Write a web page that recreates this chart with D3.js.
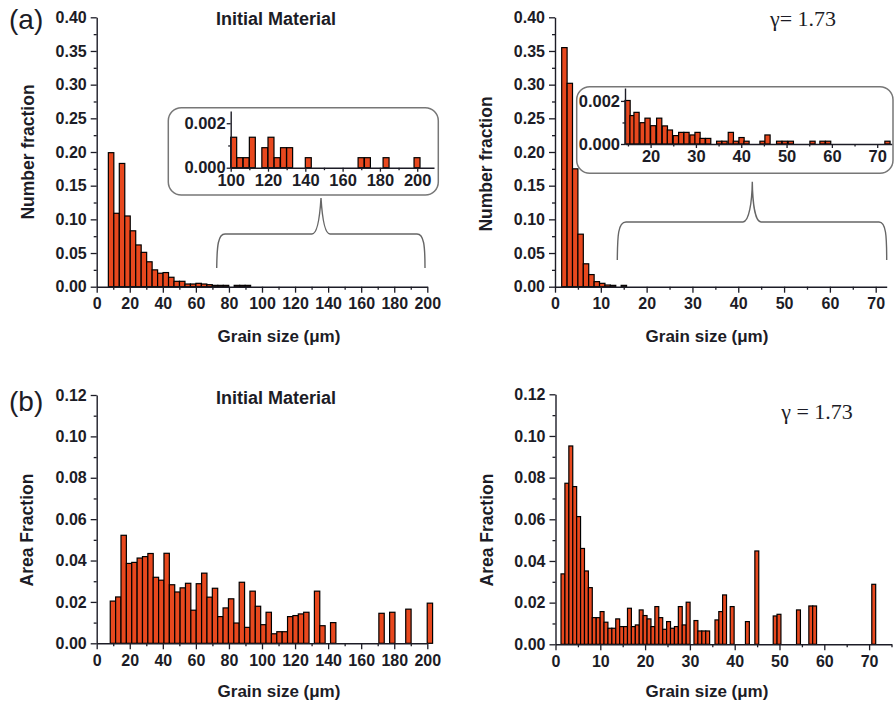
<!DOCTYPE html>
<html>
<head>
<meta charset="utf-8">
<script src="https://cdnjs.cloudflare.com/ajax/libs/d3/7.8.5/d3.min.js"></script>
<style>
body { margin: 0; background: #fff; }
svg { display: block; }
</style>
</head>
<body>
<svg width="894" height="710"></svg>
<script>
// ---- data (bin left edges in um, fractions) ----
// (a) left: number fraction, initial material
var numInitBins = [7.05, 10.36, 13.67, 16.98, 20.29, 23.6, 26.91, 30.22, 33.53, 36.84, 40.15, 43.46, 46.77,
	50.08, 53.39, 56.7, 60.01, 63.32, 66.63, 69.94, 73.25, 76.56, 79.87, 83.18, 86.49, 89.8];
var numInitFrac = [0.199, 0.109, 0.183, 0.105, 0.083, 0.062, 0.051, 0.037, 0.025, 0.020, 0.021, 0.014, 0.008,
	0.008, 0.004, 0.004, 0.005, 0.004, 0.003, 0.002, 0.002, 0.002, 0, 0.002, 0.002, 0.002];
// inset: tail 100-200 um
var tailInitBins = [100, 103.3, 106.7, 110, 116.7, 120, 123.3, 126.7, 130, 140, 168.3, 171.7, 181.7, 198.3];
var tailInitFrac = [0.00137, 0.00045, 0.00045, 0.00137, 0.0009, 0.00137, 0.00045, 0.0009, 0.0009, 0.00045,
	0.00045, 0.00045, 0.00045, 0.00045];

// (a) right: number fraction, gamma = 1.73
var numDefBins = [1.46, 2.64, 3.82, 5.0, 6.18, 7.36, 8.54, 9.72, 10.9, 12.08, 14.44];
var numDefFrac = [0.355, 0.302, 0.175, 0.078, 0.034, 0.018, 0.0075, 0.005, 0.0025, 0.002, 0.002];
// inset: tail 15-72 um
var tailDefBins = [14.34, 15.44, 16.32, 17.65, 18.75, 20.0, 21.32, 22.57, 23.68, 25.0, 26.18, 27.35, 28.68,
	29.78, 30.88, 32.13, 34.56, 35.74, 37.13, 38.24, 39.49, 40.59, 44.12, 45.22, 47.79, 49.04, 50.37,
	55.15, 57.35, 58.6, 71.69];
var tailDefFrac = [0.00202, 0.00132, 0.00147, 0.00099, 0.0012, 0.00085, 0.0012, 0.00084, 0.00065, 0.00039,
	0.00054, 0.00054, 0.00042, 0.00054, 0.00026, 0.00026, 0.00013, 0.00013, 0.00054, 0.00013, 0.0003,
	0.00013, 0.00013, 0.00042, 0.00013, 0.00013, 0.00013, 0.00013, 0.00013, 0.00013, 0.00013];

// (b) left: area fraction, initial material
var areaInitBins = [8.2, 11.45, 14.7, 17.95, 21.2, 24.45, 27.7, 30.95, 34.2, 37.45, 40.7, 43.95, 47.2, 50.45,
	53.7, 56.95, 60.2, 63.45, 66.7, 69.95, 73.2, 76.45, 79.7, 82.95, 86.2, 89.45, 92.7, 95.95, 99.2, 102.45,
	105.7, 108.95, 112.2, 115.45, 118.7, 121.95, 125.2, 131.7, 134.95, 141.45, 170.7, 177.2, 186.95, 199.95];
var areaInitFrac = [0.0204, 0.0224, 0.0522, 0.0386, 0.0391, 0.0412, 0.0419, 0.0434, 0.0319, 0.0305, 0.0435,
	0.0283, 0.0248, 0.0268, 0.0290, 0.0160, 0.0288, 0.0339, 0.0223, 0.0266, 0.0129, 0.0171, 0.0215, 0.0098,
	0.0295, 0.0077, 0.0252, 0.0179, 0.0090, 0.0150, 0.0046, 0.0056, 0.0056, 0.0129, 0.0134, 0.0142, 0.0150,
	0.0252, 0.0085, 0.0100, 0.0145, 0.0150, 0.0165, 0.0194];

// (b) right: area fraction, gamma = 1.73
var areaDefBins = [1.23, 2.10, 2.98, 3.85, 4.72, 5.60, 6.47, 7.34, 8.21, 9.09, 9.96, 10.83, 11.71, 12.58,
	13.45, 14.33, 15.20, 16.07, 16.94, 17.82, 18.69, 19.56, 20.44, 21.31, 22.18, 23.06, 23.93, 24.80, 25.67,
	26.55, 27.42, 28.29, 29.17, 30.91, 31.78, 32.66, 33.53, 35.6, 36.45, 37.3, 39.0, 42.4, 44.5, 48.6, 49.45,
	53.8, 56.55, 57.4, 70.6];
var areaDefFrac = [0.0338, 0.0773, 0.0952, 0.0757, 0.0613, 0.0460, 0.0352, 0.0272, 0.0128, 0.0128, 0.0157,
	0.0106, 0.0077, 0.0077, 0.0122, 0.0085, 0.0085, 0.0173, 0.0085, 0.0093, 0.0165, 0.0138, 0.0122, 0.0085,
	0.0181, 0.0128, 0.0072, 0.0109, 0.0077, 0.0085, 0.0181, 0.0093, 0.0202, 0.0114, 0.0064, 0.0064, 0.0064,
	0.0117, 0.0157, 0.0237, 0.0181, 0.0109, 0.0448, 0.0136, 0.0144, 0.0165, 0.0184, 0.0184, 0.0288];

// ---- ticks ----
var numTicks = [0, 0.05, 0.10, 0.15, 0.20, 0.25, 0.30, 0.35, 0.40];
var numMinor = [0.025, 0.075, 0.125, 0.175, 0.225, 0.275, 0.325, 0.375];
var areaTicks = [0, 0.02, 0.04, 0.06, 0.08, 0.10, 0.12];
var areaMinor = [0.01, 0.03, 0.05, 0.07, 0.09, 0.11];
var sizeInitTicks = [0, 20, 40, 60, 80, 100, 120, 140, 160, 180, 200];
var sizeInitMinor = [10, 30, 50, 70, 90, 110, 130, 150, 170, 190];
var sizeDefTicks = [0, 10, 20, 30, 40, 50, 60, 70];
var sizeDefMinor = [5, 15, 25, 35, 45, 55, 65];
var sizeDefMinorB = [5, 15, 25, 35, 45, 55, 65, 75];
var tailInitTicks = [100, 120, 140, 160, 180, 200];
var tailInitMinor = [110, 130, 150, 170, 190];
var tailDefTicks = [20, 30, 40, 50, 60, 70];
var tailDefMinor = [15, 25, 35, 45, 55, 65];
var tailYTicks = [0, 0.002];
var tailYMinor = [0.001];

var svg = d3.select("svg");
var sans = "'Liberation Sans', Arial, Helvetica, sans-serif";
var ink = "#1c1c26";
var barFill = "#e8481e";

function drawPanel(p) {
	var x = d3.scaleLinear().domain(p.xDomain).range(p.xRange);
	var y = d3.scaleLinear().domain(p.yDomain).range(p.yRange);
	var g = svg.append("g");

	var rows = p.bins.map(function (b, i) { return { x0: b, v: p.values[i] }; })
		.filter(function (d) { return d.v > 0; });

	g.append("g").selectAll("rect")
		.data(rows)
		.enter().append("rect")
		.attr("x", function (d) { return x(d.x0); })
		.attr("y", function (d) { return y(d.v); })
		.attr("width", function (d) { return x(d.x0 + p.binWidth) - x(d.x0); })
		.attr("height", function (d) { return y(0) - y(d.v); })
		.attr("fill", barFill)
		.attr("stroke", "#000")
		.attr("stroke-width", 1.2);

	var blank = function () { return ""; };
	var styleAxis = function (s) {
		s.attr("font-family", sans).attr("font-size", p.tickFont).attr("font-weight", "bold").attr("color", ink);
		s.selectAll("line").attr("stroke-width", 1.3);
		s.select(".domain").attr("stroke-width", 1.4);
	};

	g.append("g")
		.attr("transform", "translate(0," + p.yRange[0] + ")")
		.call(d3.axisBottom(x).tickValues(p.xMinor).tickSize(p.minor).tickSizeOuter(0).tickFormat(blank))
		.call(styleAxis)
		.call(function (s) { s.select(".domain").remove(); });
	g.append("g")
		.attr("transform", "translate(0," + p.yRange[0] + ")")
		.call(d3.axisBottom(x).tickValues(p.xTicks).tickSize(p.major).tickSizeOuter(0).tickPadding(p.padX)
			.tickFormat(d3.format("d")))
		.call(styleAxis);

	g.append("g")
		.attr("transform", "translate(" + p.xRange[0] + ",0)")
		.call(d3.axisLeft(y).tickValues(p.yMinor).tickSize(p.minor).tickSizeOuter(0).tickFormat(blank))
		.call(styleAxis)
		.call(function (s) { s.select(".domain").remove(); });
	g.append("g")
		.attr("transform", "translate(" + p.xRange[0] + ",0)")
		.call(d3.axisLeft(y).tickValues(p.yTicks).tickSize(p.major).tickSizeOuter(0).tickPadding(p.padY)
			.tickFormat(d3.format(p.yFormat)))
		.call(styleAxis);
}

// inset boxes (drawn under the inset axes)
svg.append("rect").attr("x", 168.3).attr("y", 107.7).attr("width", 270).attr("height", 87.3)
	.attr("rx", 13).attr("fill", "none").attr("stroke", "#777").attr("stroke-width", 1.5);
svg.append("rect").attr("x", 576.7).attr("y", 86.7).attr("width", 316.3).attr("height", 86.6)
	.attr("rx", 13).attr("fill", "none").attr("stroke", "#777").attr("stroke-width", 1.5);

// braces pointing up at the insets
svg.append("path")
	.attr("d", "M216.7,268 C217,246 218,234 225,234 L312,234 C318,234 320,214 321,198 " +
		"C322,214 324,234 330,234 L417,234 C424,234 425,246 425,268")
	.attr("fill", "none").attr("stroke", "#666").attr("stroke-width", 1.4);
svg.append("path")
	.attr("d", "M617.3,260 C617.5,236 618,222 626,222 L743,222 C749,222 752,202 752.3,181.7 " +
		"C752.6,202 755,222 761,222 L879,222 C886,222 886.7,236 886.7,260")
	.attr("fill", "none").attr("stroke", "#666").attr("stroke-width", 1.4);

var big = { major: 6, minor: 3, padX: 5, padY: 4, tickFont: 16 };
var small = { major: 4, minor: 2.5, padX: 2.5, padY: 1, tickFont: 16.5 };

drawPanel(Object.assign({}, big, {
	bins: numInitBins, values: numInitFrac, binWidth: 3.31,
	xDomain: [0, 200], xRange: [96.7, 427.3], yDomain: [0, 0.4], yRange: [286.7, 17.3],
	xTicks: sizeInitTicks, xMinor: sizeInitMinor, yTicks: numTicks, yMinor: numMinor, yFormat: ".2f"
}));
drawPanel(Object.assign({}, small, {
	bins: tailInitBins, values: tailInitFrac, binWidth: 3.2,
	xDomain: [100, 209], xRange: [230.7, 434], yDomain: [0, 0.00255], yRange: [167.7, 111],
	xTicks: tailInitTicks, xMinor: tailInitMinor, yTicks: tailYTicks, yMinor: tailYMinor, yFormat: ".3f"
}));
drawPanel(Object.assign({}, big, {
	bins: numDefBins, values: numDefFrac, binWidth: 1.18,
	xDomain: [0, 72.4], xRange: [555, 886.7], yDomain: [0, 0.4], yRange: [286.7, 17.3],
	xTicks: sizeDefTicks, xMinor: sizeDefMinor, yTicks: numTicks, yMinor: numMinor, yFormat: ".2f"
}));
drawPanel(Object.assign({}, small, {
	bins: tailDefBins, values: tailDefFrac, binWidth: 1.15,
	xDomain: [14.35, 73.2], xRange: [625, 891.7], yDomain: [0, 0.0026], yRange: [144, 88],
	xTicks: tailDefTicks, xMinor: tailDefMinor, yTicks: tailYTicks, yMinor: tailYMinor, yFormat: ".3f"
}));
drawPanel(Object.assign({}, big, {
	bins: areaInitBins, values: areaInitFrac, binWidth: 3.25,
	xDomain: [0, 200], xRange: [96.7, 427.3], yDomain: [0, 0.12], yRange: [643.3, 395],
	xTicks: sizeInitTicks, xMinor: sizeInitMinor, yTicks: areaTicks, yMinor: areaMinor, yFormat: ".2f"
}));
drawPanel(Object.assign({}, big, {
	bins: areaDefBins, values: areaDefFrac, binWidth: 0.87,
	xDomain: [0, 75], xRange: [555.5, 891.5], yDomain: [0, 0.12], yRange: [644.3, 394.3],
	xTicks: sizeDefTicks, xMinor: sizeDefMinorB, yTicks: areaTicks, yMinor: areaMinor, yFormat: ".2f"
}));

// ---- text ----
function label(txt, x, y, opts) {
	var t = svg.append("text")
		.attr("x", x).attr("y", y)
		.attr("text-anchor", opts.anchor || "middle")
		.attr("font-family", opts.family || sans)
		.attr("font-size", opts.size)
		.attr("font-weight", opts.weight || "bold")
		.attr("fill", ink)
		.text(txt);
	if (opts.rotate) t.attr("transform", "rotate(-90," + x + "," + y + ")");
	return t;
}

label("(a)", 9, 29, { size: 28, weight: "normal", anchor: "start" });
label("(b)", 9, 411, { size: 28, weight: "normal", anchor: "start" });

label("Initial Material", 276, 25, { size: 18 });
label("Initial Material", 276, 404, { size: 18 });
label("\u03b3= 1.73", 803, 26, { size: 22, weight: "normal", family: "'Liberation Serif', 'Times New Roman', serif" });
label("\u03b3 = 1.73", 817, 419, { size: 22, weight: "normal", family: "'Liberation Serif', 'Times New Roman', serif" });

label("Number fraction", 34, 152, { size: 17.5, rotate: true });
label("Number fraction", 492, 164, { size: 17.5, rotate: true });
label("Area Fraction", 33, 530, { size: 17.5, rotate: true });
label("Area Fraction", 493, 530, { size: 17.5, rotate: true });

label("Grain size (\u03bcm)", 279, 342, { size: 17 });
label("Grain size (\u03bcm)", 707, 342, { size: 17 });
label("Grain size (\u03bcm)", 279, 697, { size: 17 });
label("Grain size (\u03bcm)", 707, 697, { size: 17 });
</script>
</body>
</html>
